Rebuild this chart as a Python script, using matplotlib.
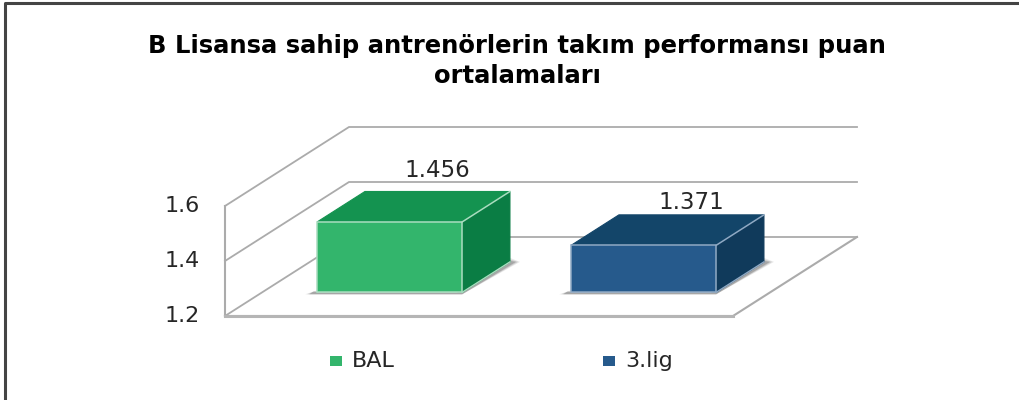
import matplotlib.pyplot as plt
from matplotlib.patches import Polygon, Rectangle

plt.rcParams['font.family'] = ['DejaVu Sans']

title = 'B Lisansa sahip antrenörlerin takım performansı puan\nortalamaları'
categories = ['BAL', '3.lig']
values = [1.456, 1.371]
y_ticks = [1.2, 1.4, 1.6]
front_colors = ['#33B56C', '#265A8C']
top_colors = ['#149350', '#134569']
side_colors = ['#0A7D44', '#103A5B']
edge_colors = ['#A9DDBF', '#8FA9C4']

px = 1 / 100
fig = plt.figure(figsize=(1019 * px, 400 * px), dpi=100)
ax = fig.add_axes([0, 0, 1, 1])

# y axis is in data units, 275 px per 1.0, x axis is in pixels
unit = 275
y_base = 1.2
ax.set_xlim(0, 1019)
ax.set_ylim(y_base - 84 / unit, y_base + 316 / unit)
ax.axis('off')

# oblique depth of the 3d box
depth_x = 124
depth_y = 79 / unit


def proj(x, v, d=0.0):
    return (x + d * depth_x, v + d * depth_y)


# walls and floor
wall_x0 = 225
wall_x1 = 733
grid = '#ABABAB'
for t in y_ticks:
    ax.plot(*zip(proj(wall_x0, t), proj(wall_x0, t, 1), proj(wall_x1, t, 1)), color=grid, lw=1.3, zorder=1)
ax.plot(*zip(proj(wall_x0, y_ticks[0]), proj(wall_x0, y_ticks[-1])), color=grid, lw=1.5, zorder=1)
ax.plot(*zip(proj(wall_x0, y_ticks[0]), proj(wall_x1, y_ticks[0]), proj(wall_x1, y_ticks[0], 1)), color=grid, lw=1.5, zorder=1)
ax.plot(*zip(proj(wall_x0, y_ticks[0]), proj(wall_x1, y_ticks[0])), color='#B5B5B5', lw=2.2, zorder=1)

for t in y_ticks:
    ax.text(200, t, f'{t:.1f}', ha='right', va='center', fontsize=16, color='#262626', zorder=5)

# bars
bar_left = [280, 534]
bar_width = 145
label_gap = [21, 12]
d_front = 0.3
d_back = 0.685
for i, v in enumerate(values):
    x0 = bar_left[i]
    x1 = x0 + bar_width
    # soft shadow, a few layers getting narrower
    for grow, a in [(6, 0.14), (4, 0.2), (2, 0.3)]:
        shadow = [proj(x0 - 6 - grow, y_base - 2 / unit, d_front), proj(x1, y_base - 2 / unit, d_front),
                  proj(x1 + grow + 4, y_base, d_back), proj(x1 - 5, y_base + grow / unit, d_back),
                  proj(x1 - 5, y_base, d_front), proj(x0, y_base, d_front), proj(x0 - 6 + grow, y_base + grow / 3 / unit, d_front)]
        ax.add_patch(Polygon(shadow, closed=True, fc='#555555', ec='none', alpha=a, zorder=2))
    top = [proj(x0, v, d_front), proj(x1, v, d_front), proj(x1, v, d_back), proj(x0, v, d_back)]
    side = [proj(x1, y_base, d_front), proj(x1, y_base, d_back), proj(x1, v, d_back), proj(x1, v, d_front)]
    front = [proj(x0, y_base, d_front), proj(x1, y_base, d_front), proj(x1, v, d_front), proj(x0, v, d_front)]
    ax.add_patch(Polygon(top, closed=True, fc=top_colors[i], ec=top_colors[i], lw=0.8, zorder=3))
    ax.add_patch(Polygon(side, closed=True, fc=side_colors[i], ec=side_colors[i], lw=0.8, zorder=3))
    ax.add_patch(Polygon(front, closed=True, fc=front_colors[i], ec=edge_colors[i], lw=1.1, zorder=4))
    ax.plot(*zip(proj(x1, v, d_front), proj(x1, v, d_back)), color=edge_colors[i], lw=1.1, zorder=4)
    ax.plot(*zip(proj(x1, y_base, d_front), proj(x1, y_base, d_back)), color=edge_colors[i], lw=1.0, zorder=4)
    lx, ly = proj(x0 + bar_width / 2, v, d_back)
    ax.text(lx, ly + label_gap[i] / unit, f'{v:.3f}', ha='center', va='center', fontsize=16.5, color='#262626', zorder=5)

# legend
legend_x = [331, 604]
legend_y = y_base - 45 / unit
for i, c in enumerate(categories):
    ax.add_patch(Rectangle((legend_x[i] - 1, legend_y - 5 / unit), 12, 10 / unit, fc=front_colors[i], ec='none', zorder=5))
    ax.text(legend_x[i] + 21, legend_y, c, ha='left', va='center', fontsize=16, color='#262626')

# title
ax.text(517, y_base + 255 / unit, title, ha='center', va='center', fontsize=17.5, fontweight='bold',
        color='black', linespacing=1.35)

# outer frame of the pasted picture
ax.plot([5, 5, 1019], [y_base - 84 / unit, y_base + 313 / unit, y_base + 313 / unit], color='#444444', lw=2.2, zorder=6)

fig.savefig('out.png', dpi=100)
